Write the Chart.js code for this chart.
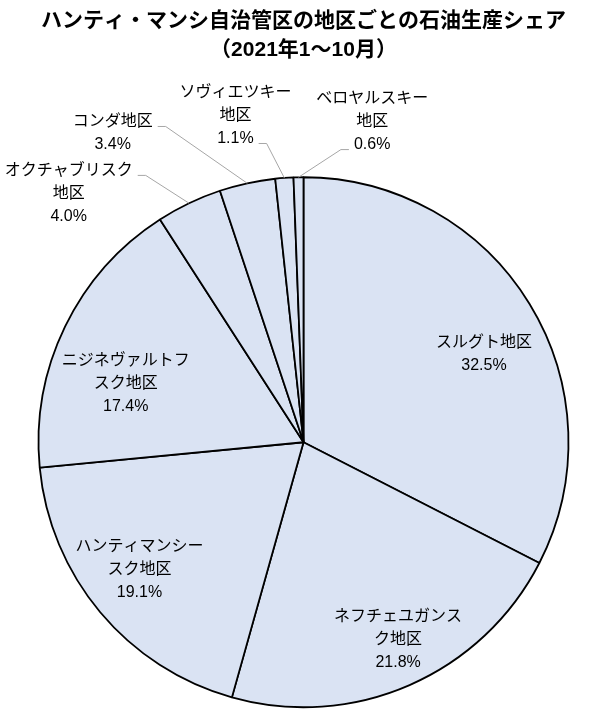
<!DOCTYPE html>
<html lang="ja">
<head>
<meta charset="utf-8">
<script src="https://cdn.jsdelivr.net/npm/chart.js@4.4.1/dist/chart.umd.min.js"></script>
<style>
  html, body { margin: 0; padding: 0; background: #fff; }
  #wrap { width: 594px; height: 719px; position: relative; }
</style>
</head>
<body>
<div id="wrap"><canvas id="shareChart"></canvas></div>
<script>
// data
const districts = ['スルグト地区', 'ネフチェユガンスク地区', 'ハンティマンシースク地区', 'ニジネヴァルトフスク地区',
    'オクチャブリスク地区', 'コンダ地区', 'ソヴィエツキー地区', 'ベロヤルスキー地区'];
const shares = [32.5, 21.8, 19.1, 17.4, 4.0, 3.4, 1.1, 0.6];
// how each label is wrapped on the chart
const labelLines = [
    ['スルグト地区'],
    ['ネフチェユガンス', 'ク地区'],
    ['ハンティマンシー', 'スク地区'],
    ['ニジネヴァルトフ', 'スク地区'],
    ['オクチャブリスク', '地区'],
    ['コンダ地区'],
    ['ソヴィエツキー', '地区'],
    ['ベロヤルスキー', '地区']
];
const titleLines = ['ハンティ・マンシ自治管区の地区ごとの石油生産シェア', '（2021年1～10月）'];

// label block centre, as a fraction of the radius from the pie centre
const labelSpots = [
    [0.681, -0.333], [0.357, 0.744], [-0.619, 0.48], [-0.671, -0.22],
    [-0.886, -0.939], [-0.72, -1.167], [-0.257, -1.233], [0.259, -1.21]
];
// leader lines for the small slices: which text line they leave from, and which side
const leaders = { 4: { line: 0, side: 1 }, 5: { line: 0, side: 1 }, 6: { line: -1, side: 1 }, 7: { line: -1, side: -1 } };

const LABEL_FONT = '16px "Liberation Sans", "Noto Sans CJK JP", sans-serif';
const LINE_GAP = 23;

const sliceLabels = {
    id: 'sliceLabels',
    afterDatasetsDraw(chart) {
        const ctx = chart.ctx;
        const arcs = chart.getDatasetMeta(0).data;
        ctx.save();
        ctx.font = LABEL_FONT;
        ctx.textAlign = 'center';
        ctx.textBaseline = 'middle';
        arcs.forEach((arc, i) => {
            const p = arc.getProps(['x', 'y', 'outerRadius', 'startAngle', 'endAngle'], true);
            const r = p.outerRadius;
            const cx = p.x + labelSpots[i][0] * r;
            const cy = p.y + labelSpots[i][1] * r;
            const lines = labelLines[i].concat([shares[i].toFixed(1) + '%']);
            const top = cy - (lines.length - 1) * LINE_GAP / 2;

            ctx.fillStyle = '#000';
            lines.forEach((t, k) => ctx.fillText(t, cx, top + k * LINE_GAP));

            const ld = leaders[i];
            if (ld) {
                const k = ld.line < 0 ? lines.length - 1 : ld.line;
                const w = ctx.measureText(lines[k]).width;
                const sx = cx + ld.side * (w / 2 + 5);
                const sy = top + k * LINE_GAP + 5;
                const mid = (p.startAngle + p.endAngle) / 2;
                const ex = p.x + Math.cos(mid) * r;
                const ey = p.y + Math.sin(mid) * r;
                const hx = sx + (ex > sx ? 8 : -8);
                ctx.strokeStyle = '#a6a6a6';
                ctx.lineWidth = 1;
                ctx.beginPath();
                ctx.moveTo(sx, sy);
                ctx.lineTo(hx, sy);
                ctx.lineTo(ex, ey);
                ctx.stroke();
            }
        });
        ctx.restore();
    }
};

new Chart(document.getElementById('shareChart').getContext('2d'), {
    type: 'pie',
    data: {
        labels: districts,
        datasets: [{
            data: shares,
            backgroundColor: '#dae3f3',
            borderColor: '#000',
            borderWidth: 1.8,
            radius: 265
        }]
    },
    options: {
        responsive: true,
        maintainAspectRatio: false,
        animation: false,
        events: [],
        layout: { padding: { left: 38, right: 25, top: 0, bottom: 11 } },
        plugins: {
            legend: { display: false },
            tooltip: { enabled: false },
            title: {
                display: true,
                text: titleLines,
                color: '#000',
                font: { family: '"Liberation Sans", "Noto Sans CJK JP", sans-serif', size: 21, weight: 'bold', lineHeight: 1.38 },
                padding: { top: 6.5, bottom: 112 }
            }
        }
    },
    plugins: [sliceLabels]
});
</script>
</body>
</html>
